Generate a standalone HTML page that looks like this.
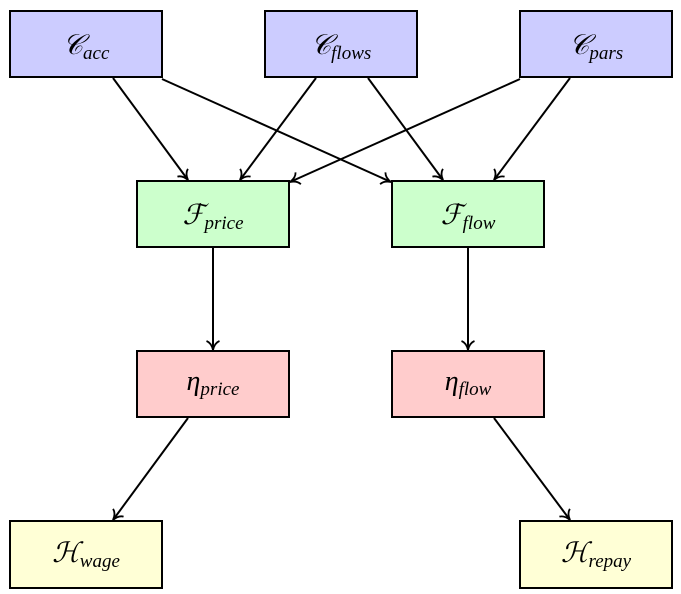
<!DOCTYPE html>
<html><head><meta charset="utf-8"><style>
html,body{margin:0;padding:0;background:#fff;width:681px;height:594px;overflow:hidden}
svg{display:block}
text{font-family:"Liberation Serif",serif;font-style:italic;fill:#000}
.m{font-size:28px}
.s{font-size:19px}
</style></head><body>
<svg width="681" height="594" viewBox="0 0 681 594" xmlns="http://www.w3.org/2000/svg">
<defs>
<marker id="a" markerWidth="16" markerHeight="16" refX="12" refY="8" orient="auto" markerUnits="userSpaceOnUse">
<path d="M3,1.5 Q5,6.5 12,8 Q5,9.5 3,14.5" fill="none" stroke="#000" stroke-width="1.8"/>
</marker>
</defs>
<g stroke="#000" stroke-width="2">
<rect x="10" y="11" width="152" height="66" fill="#ccccff"/>
<rect x="265" y="11" width="152" height="66" fill="#ccccff"/>
<rect x="520" y="11" width="152" height="66" fill="#ccccff"/>
<rect x="137" y="181" width="152" height="66" fill="#ccffcc"/>
<rect x="392" y="181" width="152" height="66" fill="#ccffcc"/>
<rect x="137" y="351" width="152" height="66" fill="#ffcccc"/>
<rect x="392" y="351" width="152" height="66" fill="#ffcccc"/>
<rect x="10" y="521" width="152" height="67" fill="#ffffd6"/>
<rect x="520" y="521" width="152" height="67" fill="#ffffd6"/>
</g>
<g stroke="#000" stroke-width="2" fill="none" marker-end="url(#a)">
<line x1="113" y1="78" x2="188" y2="180"/>
<line x1="162" y1="79" x2="391" y2="182"/>
<line x1="316" y1="78" x2="240" y2="180"/>
<line x1="368" y1="78" x2="443" y2="180"/>
<line x1="520" y1="79" x2="290" y2="182"/>
<line x1="570" y1="78" x2="494" y2="180"/>
<line x1="213" y1="248" x2="213" y2="350"/>
<line x1="468" y1="248" x2="468" y2="350"/>
<line x1="188" y1="418" x2="113" y2="520"/>
<line x1="494" y1="418" x2="570" y2="520"/>
</g>
<text x="86" y="54" text-anchor="middle"><tspan class="m">𝒞</tspan><tspan class="s" dy="5">acc</tspan></text>
<text x="341" y="54" text-anchor="middle"><tspan class="m">𝒞</tspan><tspan class="s" dy="5">flows</tspan></text>
<text x="596" y="54" text-anchor="middle"><tspan class="m">𝒞</tspan><tspan class="s" dy="5">pars</tspan></text>
<text x="213" y="224" text-anchor="middle"><tspan class="m">ℱ</tspan><tspan class="s" dy="5">price</tspan></text>
<text x="468" y="224" text-anchor="middle"><tspan class="m">ℱ</tspan><tspan class="s" dy="5">flow</tspan></text>
<text x="213" y="390" text-anchor="middle"><tspan class="m">η</tspan><tspan class="s" dy="5">price</tspan></text>
<text x="468" y="390" text-anchor="middle"><tspan class="m">η</tspan><tspan class="s" dy="5">flow</tspan></text>
<text x="86" y="562" text-anchor="middle"><tspan class="m">ℋ</tspan><tspan class="s" dy="5">wage</tspan></text>
<text x="596" y="562" text-anchor="middle"><tspan class="m">ℋ</tspan><tspan class="s" dy="5">repay</tspan></text>
</svg>
</body></html>
